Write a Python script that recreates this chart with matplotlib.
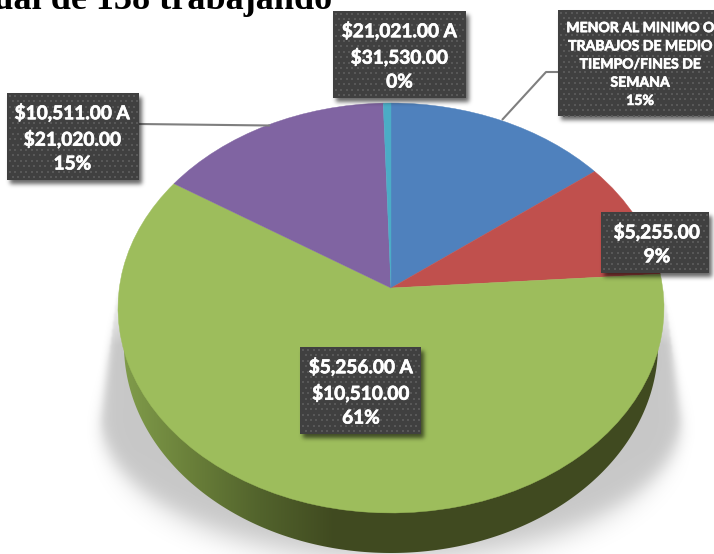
import numpy as np
import matplotlib
matplotlib.use("Agg")
import matplotlib.pyplot as plt
import matplotlib.patheffects as pe
from matplotlib.patches import Polygon, Rectangle
from matplotlib.transforms import Transform

# data
slice_values = [14.6, 9.3, 60.2, 15.4, 0.5]
slice_colors = ["#4f81bd", "#c0504d", "#9dbd5c", "#8064a2", "#4bacc6"]
label_blue = "MENOR AL MINIMO O\nTRABAJOS DE MEDIO\nTIEMPO/FINES DE\nSEMANA\n15%"
label_red = "$5,255.00\n9%"
label_green = "$5,256.00 A\n$10,510.00\n61%"
label_purple = "$10,511.00 A\n$21,020.00\n15%"
label_teal = "$21,021.00 A\n$31,530.00\n0%"
title_text = "mensual de 138 trabajando"

W, H = 714, 554
CX, APEX_Y = 391.0, 288.0
K, B, A = 0.0976, 203.0, 271.7
BASE_CY, BASE_RX, BASE_RY = 345.0, 267.0, 208.0


class Tilt(Transform):
    input_dims = output_dims = 2
    is_separable = False
    has_inverse = False
    is_affine = False

    def transform_non_affine(self, v):
        v = np.asarray(v, float)
        w = 1 + K * v[:, 1]
        return np.column_stack([CX + A * v[:, 0] / w, APEX_Y - B * v[:, 1] / w])


def blur(img, s):
    fy = np.fft.fftfreq(img.shape[0])[:, None]
    fx = np.fft.fftfreq(img.shape[1])[None, :]
    g = np.exp(-2 * (np.pi * s) ** 2 * (fx ** 2 + fy ** 2))
    return np.fft.ifft2(np.fft.fft2(img) * g).real


fig = plt.figure(figsize=(W / 100, H / 100), dpi=100, facecolor="white")
ax = fig.add_axes([0, 0, 1, 1])
EXT = (0, W, H, 0)

# soft ground shadow
pad = 80
yy, xx = np.mgrid[-pad:H + pad, -pad:W + pad] + 0.5
half = np.where(yy < 420, 273 + (yy - 285) / 135 * 17, 290 * np.sqrt(np.clip(1 - ((yy - 420) / 140) ** 2, 0, 1)))
mask = ((np.abs(xx - CX) < half) & (yy > 285)).astype(float)
sig_levels = [1.0, 4.0, 8.0, 14.0]
blurred = [blur(mask, s) for s in sig_levels]
sig = np.clip(np.interp(yy, [285, 420, 540], [1, 6, 14]), 1, 14)
out = np.zeros_like(mask)
for i in range(3):
    s0, s1 = sig_levels[i], sig_levels[i + 1]
    t = np.clip((sig - s0) / (s1 - s0), 0, 1)
    sel = (sig >= s0) & (sig <= s1)
    out[sel] = (blurred[i] * (1 - t) + blurred[i + 1] * t)[sel]
ramp = np.clip((yy - 285) / 60, 0, 1)
rgba = np.zeros(mask.shape + (4,))
rgba[..., 3] = out * ramp * 0.22
ax.imshow(rgba[pad:-pad, pad:-pad], extent=EXT, aspect="auto", zorder=1, interpolation="bilinear")

# side wall with left-to-right shading
px = np.linspace(0, W, W)[None, :]
stops_x = [118, 190, 260, 335, W]
stops_c = np.array([[0x82, 0x9e, 0x4c], [0x6a, 0x80, 0x3a], [0x52, 0x63, 0x2c], [0x40, 0x4a, 0x20], [0x40, 0x4a, 0x20]]) / 255
grad = np.stack([np.interp(px, stops_x, stops_c[:, i]) for i in range(3)], axis=-1)
side = ax.imshow(grad, extent=EXT, aspect="auto", zorder=2)
th = np.linspace(0, np.pi, 300)
clip = Polygon(np.column_stack([CX + BASE_RX * np.cos(th), BASE_CY + BASE_RY * np.sin(th)]),
               closed=True, transform=ax.transData, fc="none", ec="none")
ax.add_patch(clip)
side.set_clip_path(clip)

# top face
wedges, _ = ax.pie(slice_values, colors=slice_colors, startangle=90, counterclock=False,
                   radius=1, center=(0, 0), wedgeprops=dict(linewidth=0.3))
tilt = Tilt()
for w, c in zip(wedges, slice_colors):
    w.set_transform(tilt + ax.transData)
    w.set_edgecolor(c)
    w.set_zorder(3)
    w.set_clip_on(False)

# leader lines
LINE = "#7f7f7f"
ax.plot([139, 270], [124, 125.5], color=LINE, lw=1.5, zorder=4, solid_capstyle="butt")
ax.plot([502, 546, 558], [120, 72, 72], color=LINE, lw=1.5, zorder=4, solid_capstyle="butt")

# label boxes: (x0, y0, x1, y1, text, font size, line spacing, text x)
boxes = [
    (333, 11, 466, 98, label_teal, 13.7, 1.49, 399.5),
    (7, 93, 139, 180, label_purple, 13.7, 1.49, 72.5),
    (558, 10, 716, 116, label_blue, 10.1, 1.62, 640),
    (601, 212, 709, 273, label_red, 13.7, 1.49, 657),
    (300, 347, 421, 434, label_green, 13.7, 1.49, 361),
]
sh = np.zeros((H + 2 * pad, W + 2 * pad))
for x0, y0, x1, y1, *_ in boxes:
    sh[y0 + 4 + pad:y1 + 4 + pad, x0 + 3 + pad:x1 + 3 + pad] = 1
sh = blur(sh, 2.2)
rgba = np.zeros(sh.shape + (4,))
rgba[..., 3] = np.clip(sh, 0, 1) * 0.6
ax.imshow(rgba[pad:-pad, pad:-pad], extent=EXT, aspect="auto", zorder=5, interpolation="bilinear")

for x0, y0, x1, y1, txt, fs, ls, tx in boxes:
    ax.add_patch(Rectangle((x0, y0), x1 - x0, y1 - y0, fc="#404040", ec="none", zorder=6))
    gx, gy = [], []
    for r, yv in enumerate(np.arange(y0 + 3, y1, 5.4)):
        for xv in np.arange(x0 + 3 + (r % 2) * 2.7, x1 - 1, 5.4):
            gx.append(xv)
            gy.append(yv)
    ax.scatter(gx, gy, s=1.6, marker="s", c="#585858", linewidths=0, zorder=7)
    ax.text(tx, (y0 + y1) / 2 + 1.5, txt, color="white", fontsize=fs,
            family=["Lato", "DejaVu Sans"], fontweight="bold", ha="center", va="center",
            linespacing=ls, zorder=8, multialignment="center",
            path_effects=[pe.withStroke(linewidth=0.5, foreground="white")])

# title, cut off by the top edge as in the source
ax.text(332, 9, title_text, family="Liberation Serif", fontweight="bold", fontsize=26,
        ha="right", va="baseline", color="black", zorder=9, clip_on=False)

ax.set_aspect("auto")
ax.set_xlim(0, W)
ax.set_ylim(H, 0)
ax.axis("off")
fig.savefig("out.png", dpi=100)
